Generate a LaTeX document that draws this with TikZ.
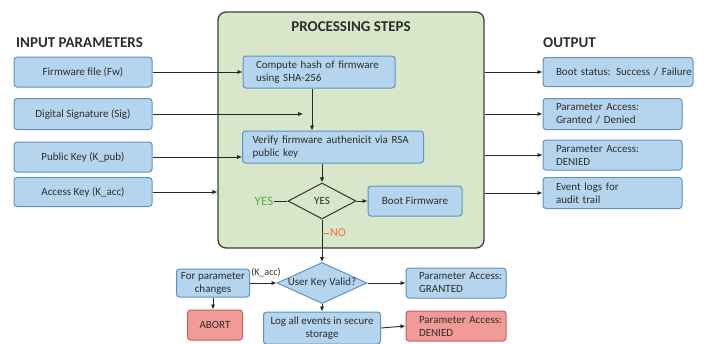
\documentclass[tikz,border=0pt]{standalone}
\usepackage{fontspec}
\setmainfont{Carlito}
\usetikzlibrary{shapes.geometric,arrows.meta}
\definecolor{txt}{RGB}{45,45,45}
\definecolor{bfill}{RGB}{180,213,237}
\definecolor{bdraw}{RGB}{95,145,195}
\definecolor{rfill}{RGB}{240,155,150}
\definecolor{rdraw}{RGB}{200,95,95}
\definecolor{gfill}{RGB}{216,230,202}
\definecolor{gdraw}{RGB}{60,65,60}
\definecolor{yesc}{RGB}{80,180,80}
\definecolor{noc}{RGB}{225,120,70}
\definecolor{lnc}{RGB}{40,40,40}
\newcommand{\nb}[1]{\mbox{#1}}
\tikzset{
  bx/.style={draw=bdraw, fill=bfill, rounded corners=3pt, line width=1pt, text=txt, font=\fontsize{11}{13}\selectfont, inner sep=1pt},
  rbx/.style={bx, draw=rdraw, fill=rfill},
  lbx/.style={bx, align=left, text width=#1},
  ttl/.style={font=\bfseries\fontsize{15}{16}\selectfont, text=txt, inner sep=0pt},
  arr/.style={draw=lnc, line width=0.9pt, -{Latex[length=5pt,width=4.5pt]}},
  ln/.style={draw=lnc, line width=0.9pt},
}
\begin{document}
\begin{tikzpicture}[x=1pt,y=-1pt]
\useasboundingbox (0,0) rectangle (704,343);
% panel
\node[draw=gdraw, fill=gfill, line width=1.3pt, rounded corners=8pt, minimum width=266pt, minimum height=236pt, inner sep=0pt] (panel) at (351,130) {};
\node[ttl] (tproc) at (351,27) {PROCESSING STEPS};
\node[ttl, anchor=west] (tin) at (16,43) {INPUT PARAMETERS};
\node[ttl, anchor=west] (tout) at (543,43) {OUTPUT};
% inputs
\node[bx, minimum width=138pt, minimum height=30pt] (fw) at (83,72) {Firmware file (Fw)};
\node[bx, minimum width=138pt, minimum height=31pt] (sig) at (83,114) {Digital Signature (Sig)};
\node[bx, minimum width=138pt, minimum height=30pt] (kpub) at (83,157) {Public Key (K\_pub)};
\node[bx, minimum width=138pt, minimum height=29pt] (kacc) at (83,192) {Access Key (K\_acc)};
% processing
\node[lbx=126pt, minimum width=152pt, minimum height=32pt] (hash) at (319,72) {\nb{Compute hash of firmware}\\\nb{using SHA-256}};
\node[lbx=161pt, minimum width=181pt, minimum height=32pt] (verify) at (333,147) {\nb{Verify firmware authenicit via RSA}\\\nb{public key}};
\node[diamond, aspect=1.89, draw=gdraw, fill=gfill, line width=1.1pt, minimum width=68pt, minimum height=36pt, inner sep=0pt, text=txt, font=\fontsize{11}{13}\selectfont] (dec) at (322,201) {YES};
\node[bx, minimum width=94pt, minimum height=30pt] (boot) at (415,201) {Boot Firmware};
\node[text=yesc, font=\fontsize{13}{14}\selectfont, inner sep=1pt] (yes) at (264,201) {YES};
\node[text=noc, font=\fontsize{12}{13}\selectfont, inner sep=1pt, anchor=west] (no) at (329,233) {NO};
\coordinate (notick) at (322,233);
% bottom
\node[diamond, aspect=2.2, draw=bdraw, fill=bfill, line width=1pt, inner xsep=0pt, inner ysep=-2pt, minimum width=90pt, minimum height=41pt, text=txt, font=\fontsize{11}{13}\selectfont] (key) at (322,283) {User Key Valid?};
\node[bx, align=center, minimum width=73pt, minimum height=28pt, inner sep=0pt] (fp) at (213,283) {For parameter\\changes};
\node[text=txt, font=\fontsize{10}{11}\selectfont, inner sep=0pt] (kl) at (266,273) {(K\_acc)};
\node[rbx, minimum width=55pt, minimum height=30pt] (abort) at (215,325) {ABORT};
\node[bx, align=center, minimum width=117pt, minimum height=32pt, inner sep=0pt] (log) at (322,328) {Log all events in secure\\storage};
\node[lbx=74pt, minimum width=100pt, minimum height=30pt] (gr) at (456,283) {\nb{Parameter Access:}\\GRANTED};
\node[rbx, align=left, text width=74pt, minimum width=100pt, minimum height=30pt] (dn) at (456,326) {\nb{Parameter Access:}\\DENIED};
% outputs
\node[lbx=124pt, minimum width=150pt, minimum height=29pt] (o1) at (618,72) {\nb{Boot status: Success / Failure}};
\node[lbx=113pt, minimum width=139pt, minimum height=31pt] (o2) at (612.5,114) {\nb{Parameter Access:}\\\nb{Granted / Denied}};
\node[lbx=113pt, minimum width=139pt, minimum height=30pt] (o3) at (612.5,155) {\nb{Parameter Access:}\\DENIED};
\node[lbx=113pt, minimum width=139pt, minimum height=31pt] (o4) at (612.5,193) {\nb{Event logs for}\\\nb{audit trail}};
% connectors
\draw[arr] (fw.east) -- (hash.west);
\coordinate (sigend) at (303,114);
\draw[arr] (sig.east) -- (sigend);
\draw[arr] (kpub.east) -- (kpub.east -| verify.west);
\draw[arr] (kacc.east) -- (kacc.east -| panel.west);
\draw[arr] ([xshift=-7pt]hash.south) -- ([xshift=-7pt]hash.south |- verify.north);
\draw[arr] (verify.south -| dec.north) -- (dec.north);
\draw[arr] (dec.east) -- (boot.west);
\draw[ln] (yes.east) -- (dec.west);
\draw[arr] (dec.south) -- (key.north);
\draw[draw=noc, line width=0.9pt] (notick) -- (no.west);
\draw[arr] (fp.east) -- (key.west);
\draw[arr] (fp.south) -- (abort.north -| fp.south);
\draw[arr] (key.south) -- (log.north);
\draw[arr] (key.east) -- (gr.west);
\draw[arr] (log.east) -- (dn.west);
\draw[arr] (panel.east |- o1.west) -- (o1.west);
\draw[arr] (panel.east |- o2.west) -- (o2.west);
\draw[arr] (panel.east |- o3.west) -- (o3.west);
\draw[arr] (panel.east |- o4.west) -- (o4.west);
\end{tikzpicture}
\end{document}
